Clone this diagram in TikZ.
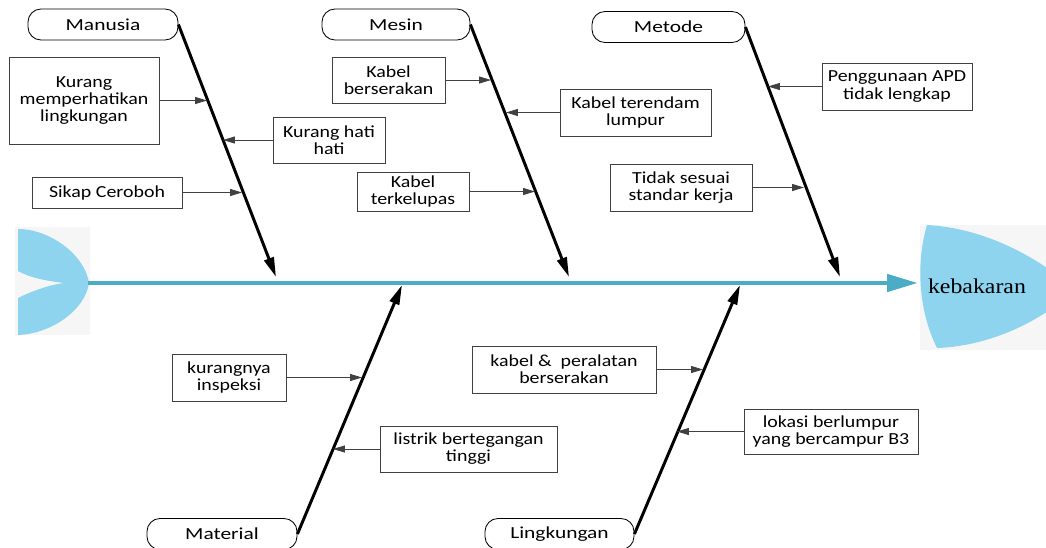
\documentclass[tikz,border=0pt]{standalone}
\usepackage{fontspec}
\setmainfont{Carlito}
\newfontfamily\catfont{Carlito}[FakeStretch=1.27]
\newfontfamily\boxfont{Carlito}[FakeStretch=1.18]
\newfontfamily\headfont{Liberation Serif}[FakeStretch=1.13]
\usetikzlibrary{arrows.meta}
\definecolor{spineteal}{RGB}{75,172,198}
\definecolor{fishblue}{RGB}{142,212,239}
\definecolor{bggrey}{RGB}{246,246,246}
\newlength{\px}
\setlength{\px}{0.025cm}

\begin{document}
\begin{tikzpicture}[x=0.025cm, y=-0.025cm]

\tikzstyle{cat}=[rectangle, rounded corners=13\px, draw, line width=0.6pt, minimum width=150\px, minimum height=31\px, inner sep=0pt, font=\catfont\fontsize{12}{12}\selectfont]
\tikzstyle{cause}=[rectangle, draw=black!75, line width=0.6pt, inner sep=0pt, align=center, font=\boxfont\fontsize{12}{12.2}\selectfont]
\tikzstyle{arrow}=[-{Triangle[length=8.5pt,width=5pt]}, draw=black!75, line width=0.6pt]
\tikzstyle{bone}=[-{Triangle[length=14pt,width=7pt]}, line width=2.1pt]
\tikzstyle{spine}=[-{Triangle[length=22pt,width=12pt]}, spineteal, line width=3.5pt]

\useasboundingbox (0,0) rectangle (1046,547);
\clip (0,0) rectangle (1046,547);

\fill[bggrey] (15,227) rectangle (90,335);
\fill[bggrey] (920,225) rectangle (1046,350);
\fill[fishblue] (18,229) .. controls (50,229) and (85,255) .. (89,283) .. controls (85,311) and (50,334) .. (18,335) -- (18,298) .. controls (30,292) and (48,285) .. (64,283) .. controls (48,281) and (30,278) .. (18,271) -- cycle;
\fill[fishblue] (927,225) .. controls (985,228) and (1040,258) .. (1075,290) .. controls (1040,322) and (990,346) .. (937,348) .. controls (918,310) and (916,262) .. (927,225) -- cycle;

\coordinate (tail) at (88,283);
\coordinate (spineEnd) at (918,283);
\node (head) at (977,286) {\headfont\fontsize{15}{15}\selectfont kebakaran};

\node (man) [cat] at (103,24.5) {Manusia};
\node (mes) [cat, minimum width=148\px] at (396,24.5) {Mesin};
\node (met) [cat, minimum width=153\px] at (668.5,27) {Metode};
\node (mat) [cat] at (222,534) {Material};
\node (lin) [cat, minimum width=149\px] at (559.5,534) {Lingkungan};

\coordinate (manTip) at (276,277);
\coordinate (mesTip) at (569,277);
\coordinate (metTip) at (840,277);
\coordinate (matTip) at (402,285);
\coordinate (linTip) at (740,285);

\node (kmp) [cause, minimum width=150\px, minimum height=87\px] at (84,100.5) {Kurang\\memperhatikan\\lingkungan};
\node (khh) [cause, minimum width=112\px, minimum height=46\px] at (329,140) {Kurang hati\\hati};
\node (sc)  [cause, minimum width=150\px, minimum height=31\px] at (107,192.5) {Sikap Ceroboh};
\node (kbs) [cause, minimum width=113\px, minimum height=46\px] at (388.5,80) {Kabel\\berserakan};
\node (ktl) [cause, minimum width=151\px, minimum height=47\px] at (635.5,112.5) {Kabel terendam\\lumpur};
\node (ktk) [cause, minimum width=112\px, minimum height=39\px] at (413,191.5) {Kabel\\terkelupas};
\node (apd) [cause, minimum width=150\px, minimum height=47\px] at (897,86.5) {Penggunaan APD\\tidak lengkap};
\node (tss) [cause, minimum width=142\px, minimum height=47\px] at (681,187.5) {Tidak sesuai\\standar kerja};
\node (ki)  [cause, minimum width=114\px, minimum height=47\px] at (229,377.5) {kurangnya\\inspeksi};
\node (lbt) [cause, minimum width=177\px, minimum height=46\px] at (468.5,449) {listrik bertegangan\\tinggi};
\node (kpb) [cause, minimum width=184\px, minimum height=47\px] at (564,369.5) {kabel \& \ peralatan\\berserakan};
\node (lbb) [cause, minimum width=174\px, minimum height=45\px] at (831,431.5) {lokasi berlumpur\\yang bercampur B3};

\coordinate (kmpTip) at (207,100.5);
\coordinate (khhTip) at (223,140);
\coordinate (scTip)  at (242,192.5);
\coordinate (kbsTip) at (491,80);
\coordinate (ktlTip) at (506,112.5);
\coordinate (ktkTip) at (535,191.5);
\coordinate (apdTip) at (768,86.5);
\coordinate (tssTip) at (804,187.5);
\coordinate (kiTip)  at (362,377.5);
\coordinate (lbtTip) at (333,449);
\coordinate (kpbTip) at (703,369.5);
\coordinate (lbbTip) at (677,431.5);

\draw [spine] (tail) -- (spineEnd);

\draw [bone] (man.east) -- (manTip);
\draw [bone] (mes.east) -- (mesTip);
\draw [bone] (met.east) -- (metTip);
\draw [bone] (mat.east) -- (matTip);
\draw [bone] (lin.east) -- (linTip);

\draw [arrow] (kmp.east) -- (kmpTip);
\draw [arrow] (khh.west) -- (khhTip);
\draw [arrow] (sc.east) -- (scTip);
\draw [arrow] (kbs.east) -- (kbsTip);
\draw [arrow] (ktl.west) -- (ktlTip);
\draw [arrow] (ktk.east) -- (ktkTip);
\draw [arrow] (apd.west) -- (apdTip);
\draw [arrow] (tss.east) -- (tssTip);
\draw [arrow] (ki.east) -- (kiTip);
\draw [arrow] (lbt.west) -- (lbtTip);
\draw [arrow] (kpb.east) -- (kpbTip);
\draw [arrow] (lbb.west) -- (lbbTip);

\end{tikzpicture}
\end{document}
